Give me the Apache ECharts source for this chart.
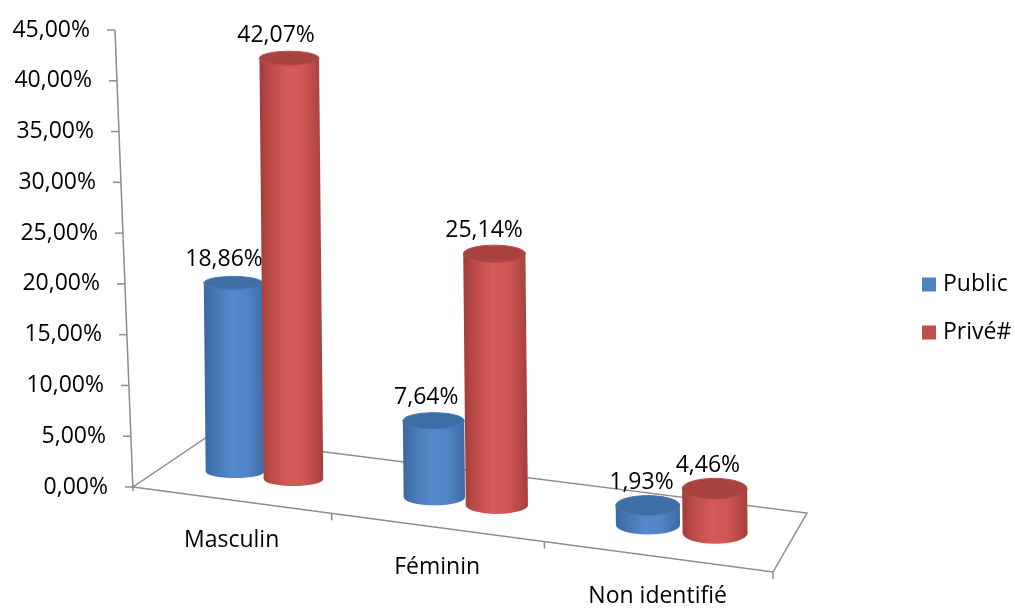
<!DOCTYPE html>
<html>
<head>
<meta charset="utf-8">
<title>Public / Privé par genre</title>
<script src="https://cdn.jsdelivr.net/npm/echarts/dist/echarts.min.js"></script>
<style>
  html, body { margin: 0; padding: 0; background: #ffffff; }
  #chart { width: 1015px; height: 608px; }
</style>
</head>
<body>
<div id="chart"></div>
<script>
// ---- data ----
const categories = ['Masculin', 'Féminin', 'Non identifié'];
const seriesNames = ['Public', 'Privé#'];
const publicValues = [18.86, 7.64, 1.93];
const priveValues = [42.07, 25.14, 4.46];
const yTicks = [0, 5, 10, 15, 20, 25, 30, 35, 40, 45];

// ---- look ----
const FONT = '"Open Sans", "Liberation Sans", sans-serif';
const FONT_SIZE = 23;
const AXIS_GREY = '#8c8c8c';
const BLUE = {
  legend: '#4f81bd',
  top: '#3f6da6',
  rim: '#4a78b3',
  body: ['#3b67a1', '#4776b4', '#5589cb', '#4f84c6', '#3e6aa5']
};
const RED = {
  legend: '#c0504d',
  top: '#a8433f',
  rim: '#b84d4a',
  body: ['#a03c39', '#bd4c49', '#d35b58', '#cd5552', '#a43f3c']
};

function fmtPct(v) {
  return v.toFixed(2).replace('.', ',') + '%';
}

// The floor is seen in perspective: categories get a little wider towards
// the right, and the floor is bounded by a skewed quadrilateral.
const FORESHORTEN = 0.9;
function persp(t) {
  return FORESHORTEN * t / (1 + (FORESHORTEN - 1) * t);
}
function lerp(a, b, s) {
  return [a[0] + (b[0] - a[0]) * s, a[1] + (b[1] - a[1]) * s];
}
function frame(cs) {
  const x0 = cs.x, y0 = cs.y + cs.height, w = cs.width;
  return {
    F0: [x0 - 2, y0],
    F1: [x0 + w, y0 + 85],
    B0: [x0 + 72, y0 - 50],
    B1: [x0 + w + 34, y0 + 26]
  };
}
function floorPoint(cs, u, d) {
  const f = frame(cs);
  return lerp(lerp(f.F0, f.F1, u), lerp(f.B0, f.B1, u), d);
}

function bodyGradient(p) {
  const s = p.body;
  return {
    type: 'linear', x: 0, y: 0, x2: 1, y2: 0,
    colorStops: [
      { offset: 0, color: s[0] },
      { offset: 0.18, color: s[1] },
      { offset: 0.45, color: s[2] },
      { offset: 0.72, color: s[3] },
      { offset: 1, color: s[4] }
    ]
  };
}

function textStyle(text) {
  return {
    text: text,
    fill: '#000',
    fontSize: FONT_SIZE,
    fontFamily: FONT,
    align: 'center',
    verticalAlign: 'middle'
  };
}

// Axis frame, floor outline and category names
function floorRenderer(params, api) {
  const cs = params.coordSys;
  const f = frame(cs);
  const i = api.value(0);
  const line = { stroke: AXIS_GREY, lineWidth: 1.5, fill: 'none' };
  const children = [];
  if (params.dataIndex === 0) {
    children.push({
      type: 'polygon',
      shape: { points: [f.F0, f.F1, f.B1, f.B0] },
      style: line
    });
    const y0 = cs.y + cs.height;
    const axisX = function (y) { return f.F0[0] - 18 * (y0 - y) / cs.height; };
    children.push({
      type: 'line',
      shape: { x1: axisX(cs.y), y1: cs.y, x2: f.F0[0], y2: y0 + 4 },
      style: line
    });
    yTicks.forEach(function (v) {
      const y = api.coord([0, v])[1];
      children.push({
        type: 'line',
        shape: { x1: axisX(y) - 8, y1: y, x2: axisX(y), y2: y },
        style: line
      });
    });
    for (let k = 1; k <= categories.length; k++) {
      const p = lerp(f.F0, f.F1, persp(k / categories.length));
      children.push({
        type: 'line',
        shape: { x1: p[0], y1: p[1], x2: p[0], y2: p[1] + 7 },
        style: line
      });
    }
  }
  const t = (api.coord([i, 0])[0] - cs.x) / cs.width;
  const p = lerp(f.F0, f.F1, persp(t));
  children.push({
    type: 'text',
    x: p[0] + 1,
    y: p[1] + 40,
    style: textStyle(categories[i])
  });
  return { type: 'group', children: children };
}

// Cylinders standing on the floor, with their value above
function cylinderRenderer(side, palette) {
  return function (params, api) {
    const cs = params.coordSys;
    const i = api.value(0);
    const v = api.value(1);
    const origin = api.coord([i, 0]);
    const tip = api.coord([i, v]);
    const band = api.size([1, 0])[0];
    const t = (origin[0] + side * 0.15 * band - cs.x) / cs.width;
    const u = persp(t);
    const base = floorPoint(cs, u, 0.48);
    const h = (origin[1] - tip[1]) * 0.985;
    const rx = (58 + 8 * u) / 2;
    const ry = 6 + 5 * u;
    const cx = base[0] + 6 * u, by = base[1], ty = by - h;
    const tx = cx - h * 0.01;
    const body = 'M' + (tx - rx) + ' ' + ty +
      'L' + (cx - rx) + ' ' + by +
      'A' + rx + ' ' + ry + ' 0 0 0 ' + (cx + rx) + ' ' + by +
      'L' + (tx + rx) + ' ' + ty + 'Z';
    const cap = 'M' + (tx - rx) + ' ' + ty +
      'A' + rx + ' ' + ry + ' 0 1 1 ' + (tx + rx) + ' ' + ty +
      'A' + rx + ' ' + ry + ' 0 1 1 ' + (tx - rx) + ' ' + ty + 'Z';
    return {
      type: 'group',
      children: [
        { type: 'path', shape: { pathData: body }, style: { fill: bodyGradient(palette) } },
        { type: 'path', shape: { pathData: cap }, style: { fill: palette.top, stroke: palette.rim, lineWidth: 1 } },
        {
          type: 'text',
          x: cx - 6 - 0.27 * v,
          y: ty - 23,
          z2: 10,
          style: textStyle(fmtPct(v))
        }
      ]
    };
  };
}

// y labels follow the leaning value axis
const yRich = {};
yTicks.forEach(function (v) {
  yRich['p' + v] = {
    fontSize: FONT_SIZE,
    fontFamily: FONT,
    color: '#000',
    padding: [0, Math.round(v * 0.4), 0, 0]
  };
});

const chart = echarts.init(document.getElementById('chart'), null, { renderer: 'canvas' });
chart.setOption({
  animation: false,
  backgroundColor: '#ffffff',
  grid: { left: 135, right: 242, top: 30, bottom: 121 },
  xAxis: { type: 'category', data: categories, show: false },
  yAxis: {
    type: 'value',
    min: 0,
    max: 45,
    interval: 5,
    axisLine: { show: false },
    axisTick: { show: false },
    splitLine: { show: false },
    axisLabel: {
      margin: 27,
      formatter: function (v) { return '{p' + v + '|' + fmtPct(v) + '}'; },
      rich: yRich
    }
  },
  legend: {
    orient: 'vertical',
    left: 917,
    top: 268,
    itemWidth: 14,
    itemHeight: 14,
    itemGap: 25,
    icon: 'rect',
    data: seriesNames,
    textStyle: { fontSize: FONT_SIZE, fontFamily: FONT, color: '#000', padding: [0, 0, 0, 2] }
  },
  series: [
    {
      type: 'custom',
      name: 'floor',
      silent: true,
      z: 1,
      renderItem: floorRenderer,
      encode: { x: 0 },
      data: categories.map(function (c, i) { return [i]; })
    },
    {
      type: 'custom',
      name: seriesNames[0],
      z: 2,
      itemStyle: { color: BLUE.legend },
      renderItem: cylinderRenderer(-1, BLUE),
      encode: { x: 0, y: 1 },
      data: publicValues.map(function (v, i) { return [i, v]; })
    },
    {
      type: 'custom',
      name: seriesNames[1],
      z: 3,
      itemStyle: { color: RED.legend },
      renderItem: cylinderRenderer(1, RED),
      encode: { x: 0, y: 1 },
      data: priveValues.map(function (v, i) { return [i, v]; })
    }
  ]
});
</script>
</body>
</html>
